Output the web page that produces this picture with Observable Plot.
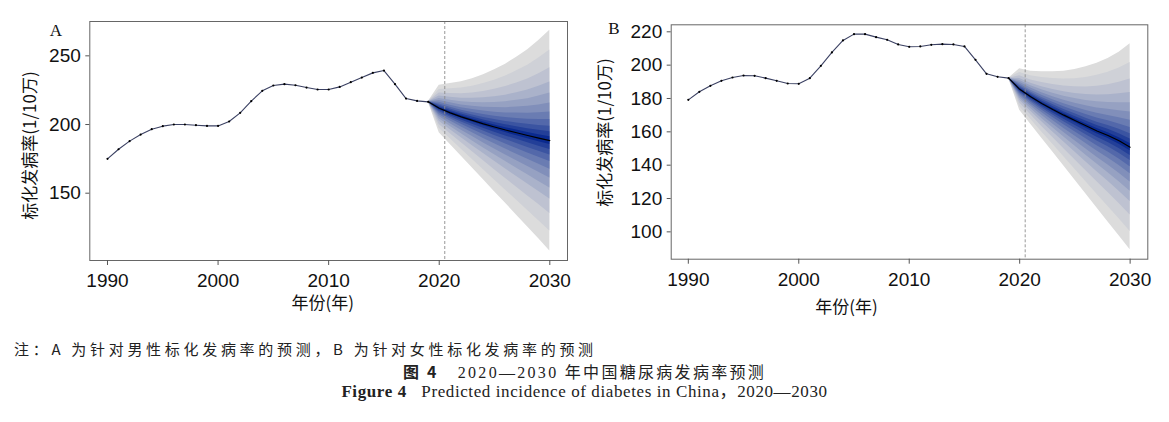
<!DOCTYPE html>
<html><head><meta charset="utf-8">
<script src="https://cdn.jsdelivr.net/npm/d3@7"></script>
<script src="https://cdn.jsdelivr.net/npm/@observablehq/plot@0.6"></script>
<style>
body{margin:0;background:#fff;width:1169px;height:422px;overflow:hidden;position:relative;}
#a{position:absolute;left:0;top:0}
#b{position:absolute;left:580px;top:0}
.cap{position:absolute;white-space:nowrap;color:#222;font-family:"Liberation Serif","Noto Sans CJK SC",serif;line-height:1}
</style></head><body>
<div id="a"></div><div id="b"></div>
<div class="cap" style="left:14px;top:341px;font-size:15px;letter-spacing:3.7px;font-family:'Noto Sans CJK SC',sans-serif">注：A 为针对男性标化发病率的预测，B 为针对女性标化发病率的预测</div>
<div class="cap" style="left:0;width:1169px;text-align:center;top:363px;font-size:16px;letter-spacing:2.3px"><b style="font-family:'Noto Sans CJK SC'">图 4</b>&nbsp;&nbsp;&nbsp;2020—2030 <span style="font-family:'Noto Sans CJK SC'">年中国糖尿病发病率预测</span></div>
<div class="cap" style="left:0;width:1169px;text-align:center;top:383px;font-size:17px;letter-spacing:0.6px"><b>Figure 4</b>&nbsp;&nbsp;&nbsp;Predicted incidence of diabetes in China，2020—2030</div>
<script>
// ---- data ----
const histYears = [1990,1991,1992,1993,1994,1995,1996,1997,1998,1999,2000,2001,2002,2003,2004,2005,2006,2007,2008,2009,2010,2011,2012,2013,2014,2015,2016,2017,2018,2019];
const maleRate = [175.0,182.0,187.9,192.7,196.6,198.8,200.0,200.0,199.5,199.0,199.0,202.2,208.5,217.0,224.5,228.4,229.4,228.6,226.9,225.5,225.5,227.4,230.8,234.2,237.6,239.3,229.4,218.9,217.2,216.5];
const femaleRate = [179.2,184.0,187.6,190.6,192.6,193.8,193.6,192.2,190.6,189.0,188.8,192.2,199.6,207.6,214.8,218.6,218.6,216.8,215.2,212.4,211.0,211.2,212.2,212.6,212.4,211.2,203.2,194.8,193.0,192.2];
const forecastYears = [2019,2020,2021,2022,2023,2024,2025,2026,2027,2028,2029,2030];
const maleMedian = [216.5,211.8,208.5,205.6,203.0,200.5,198.2,196.0,194.0,192.0,190.1,188.3];
const maleUpper  = [216.5,228.6,229.9,231.1,233.3,236.2,239.8,243.9,249.0,254.4,261.2,268.7];
const maleLower  = [216.5,194.0,185.4,176.9,168.3,159.7,151.1,142.6,134.0,125.4,116.8,108.0];
const femaleMedian = [192.2,185.5,181.0,177.0,173.4,170.0,166.8,163.6,160.5,157.8,154.6,150.8];
const femaleUpper  = [192.2,197.8,196.4,196.0,196.0,196.4,197.4,199.0,201.2,204.0,207.8,212.8];
const femaleLower  = [192.2,173.0,164.6,156.2,147.9,139.5,131.1,122.7,114.3,105.9,97.6,89.2];
const bandFractions = [1,0.82,0.66,0.53,0.43,0.34,0.26,0.19,0.13,0.08,0.035];
const xTicks = [1990,2000,2010,2020,2030];
const maleYTicks = [150,200,250];
const femaleYTicks = [100,120,140,160,180,200,220];
const forecastStart = 2020.5;

const ramp = d3.interpolateRgb("#dcdcdc", "#0a2a8f");
const bandColors = bandFractions.map((f, k) => ramp(Math.pow(k / (bandFractions.length - 1), 1.2)));

function panel(o) {
  const hist = histYears.map((y, i) => ({year: y, v: o.rate[i]}));
  const fan = forecastYears.map((y, i) => ({year: y, m: o.med[i], u: o.up[i], l: o.lo[i]}));
  const fontSans = "Liberation Sans, Arial, sans-serif";
  return Plot.plot({
    width: o.width, height: o.height,
    marginLeft: o.mL, marginRight: o.mR, marginTop: o.mT, marginBottom: o.mB,
    x: {domain: o.xDomain},
    y: {domain: o.yDomain},
    style: {fontFamily: fontSans, background: "white", overflow: "visible"},
    marks: [
      ...bandFractions.map((f, k) => Plot.areaY(fan, {
        x: "year",
        y1: d => d.m - f * (d.m - d.l),
        y2: d => d.m + f * (d.u - d.m),
        fill: bandColors[k], curve: "linear"
      })),
      Plot.ruleX([forecastStart], {stroke: "#8c8c8c", strokeDasharray: "3,2", strokeWidth: 0.9}),
      Plot.lineY(fan, {x: "year", y: "m", stroke: "#000", strokeWidth: 1.2}),
      Plot.lineY(hist, {x: "year", y: "v", stroke: "#3b4163", strokeWidth: 1.1}),
      Plot.dot(hist, {x: "year", y: "v", r: 1.1, fill: "#000", stroke: null}),
      Plot.frame({stroke: "#666", strokeWidth: 1}),
      Plot.axisX({ticks: xTicks, tickFormat: d => String(d), tickSize: 5, tickPadding: 8, label: null,
        fontSize: 19, stroke: "#555", fill: "#111"}),
      Plot.axisY({ticks: o.yTicks, tickSize: 4, tickPadding: 5, label: null,
        fontSize: 19, stroke: "#555", fill: "#111"}),
      Plot.text([o.xTitle], {frameAnchor: "bottom", dx: o.xtDx, dy: o.xtDy, text: d => d,
        fontSize: 17, fontFamily: "Noto Sans CJK SC", fill: "#111", textAnchor: "middle", lineAnchor: "middle"}),
      Plot.text([o.yTitle], {frameAnchor: "left", dx: o.ytDx, dy: o.ytDy, text: d => d, rotate: -90,
        fontSize: 17, fontFamily: "Noto Sans CJK SC", fill: "#111", textAnchor: "middle", lineAnchor: "middle"}),
      Plot.text([o.label], {frameAnchor: "top-left", dx: o.lDx, dy: o.lDy, text: d => d,
        fontSize: 17, fontFamily: "Liberation Serif, serif", fill: "#111", textAnchor: "start", lineAnchor: "middle"})
    ]
  });
}

document.getElementById("a").append(panel({
  rate: maleRate, med: maleMedian, up: maleUpper, lo: maleLower,
  width: 580, height: 322, mL: 89.3, mR: 13, mT: 21, mB: 62,
  xDomain: [1988.4, 2031.6], yDomain: [101, 275], yTicks: maleYTicks,
  xTitle: "年份(年)", yTitle: "标化发病率(1/10万)", label: "A",
  xtDx: -6, xtDy: 43, ytDx: -59, ytDy: 4.5, lDx: -40, lDy: 9
}));
document.getElementById("b").append(panel({
  rate: femaleRate, med: femaleMedian, up: femaleUpper, lo: femaleLower,
  width: 589, height: 322, mL: 90.7, mR: 21.7, mT: 24.3, mB: 63.3,
  xDomain: [1988.45, 2031.6], yDomain: [83.6, 224.2], yTicks: femaleYTicks,
  xTitle: "年份(年)", yTitle: "标化发病率(1/10万)", label: "B",
  xtDx: -63, xtDy: 48, ytDx: -66, ytDy: -9.5, lDx: -63, lDy: 4
}));
</script>
</body></html>
